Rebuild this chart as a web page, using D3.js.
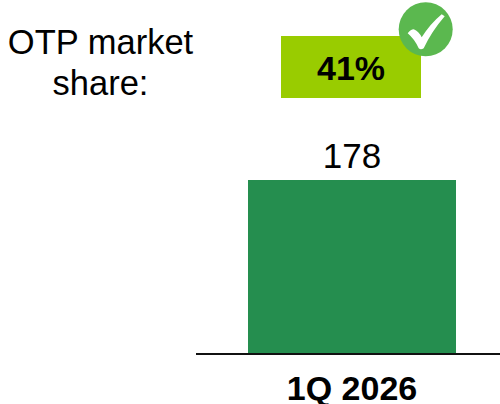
<!DOCTYPE html>
<html>
<head>
<script src="https://d3js.org/d3.v7.min.js"></script>
<style>
html, body { margin: 0; padding: 0; background: #fff; }
svg { display: block; }
text { font-family: "Liberation Sans", Arial, sans-serif; fill: #000; }
</style>
</head>
<body>
<svg width="500" height="404"></svg>
<script>
const categories = ["1Q 2026"];
const values = [178];
const shareLabel = ["OTP market", "share:"];
const shareValue = ["41%"];

const svg = d3.select("svg");

const x = d3.scaleBand().domain(categories).range([248, 456]);
const y = d3.scaleLinear().domain([0, 178]).range([354, 180]);

svg.selectAll("rect.bar")
  .data(values)
  .enter()
  .append("rect")
  .attr("class", "bar")
  .attr("x", (d, i) => x(categories[i]))
  .attr("y", d => y(d))
  .attr("width", x.bandwidth())
  .attr("height", d => y(0) - y(d))
  .attr("fill", "#258e4f");

svg.selectAll("text.val")
  .data(values)
  .enter()
  .append("text")
  .attr("class", "val")
  .attr("x", (d, i) => x(categories[i]) + x.bandwidth() / 2)
  .attr("y", d => y(d) - 12)
  .attr("text-anchor", "middle")
  .style("font-size", "35px")
  .text(d => d);

// category label from the axis, baseline drawn by hand since it runs past the bar
const gx = svg.append("g")
  .attr("transform", "translate(0," + y(0) + ")")
  .call(d3.axisBottom(x).tickSize(0));
gx.select(".domain").remove();
gx.selectAll("text")
  .attr("y", 46)
  .attr("dy", null)
  .style("font-family", '"Liberation Sans", Arial, sans-serif')
  .style("font-size", "34px")
  .style("font-weight", "bold");

svg.append("line")
  .attr("x1", 196).attr("x2", 500)
  .attr("y1", y(0)).attr("y2", y(0))
  .attr("stroke", "#111")
  .attr("stroke-width", 2);

// market share box
svg.append("rect")
  .attr("x", 281).attr("y", 36).attr("width", 140).attr("height", 62)
  .attr("fill", "#99cc00");
svg.append("text")
  .attr("x", 351).attr("y", 80)
  .attr("text-anchor", "middle")
  .style("font-size", "34px")
  .style("font-weight", "bold")
  .text(shareValue[0]);

svg.append("text").selectAll("tspan")
  .data(shareLabel)
  .enter()
  .append("tspan")
  .attr("x", 100.5)
  .attr("y", (d, i) => 54 + i * 41)
  .attr("text-anchor", "middle")
  .style("font-size", "34.5px")
  .text(d => d);

// check badge
const badge = svg.append("g").attr("transform", "translate(425.7,29.3)");
badge.append("circle").attr("r", 27).attr("fill", "#5bb84f");
badge.append("path")
  .attr("d", "M-18,4 Q-15,0 -12,0 Q-7,2 -4,8 Q5,-6 16,-15 L19,-13 Q6,2 -2,19 Q-5,21 -7,19 Q-11,10 -18,4 Z")
  .attr("fill", "#fff");
</script>
</body>
</html>
